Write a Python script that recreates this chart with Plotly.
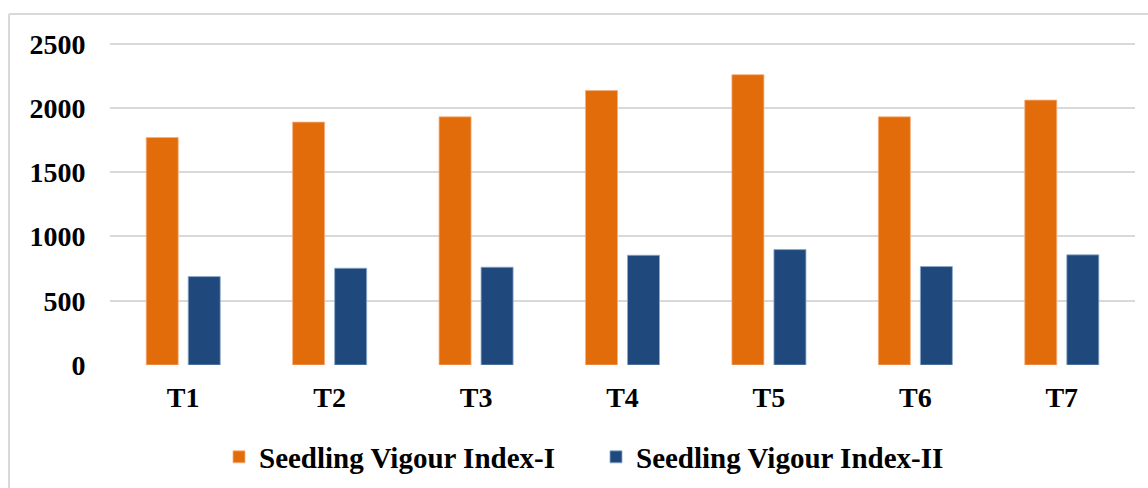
import plotly.graph_objects as go

categories = ["T1", "T2", "T3", "T4", "T5", "T6", "T7"]
svi_1 = [1770, 1890, 1931, 2136, 2259, 1931, 2061]
svi_2 = [688, 753, 761, 854, 898, 766, 857]
series_names = ["Seedling Vigour Index-I", "Seedling Vigour Index-II"]
y_ticks = [0, 500, 1000, 1500, 2000, 2500]

W, H = 1148, 488
ML, MR, MT, MB = 110, 13, 18, 123
pw = W - ML - MR
ph = H - MT - MB

font_main = dict(family="Liberation Serif", size=28, color="black", weight="bold")
font_leg = dict(family="Liberation Serif", size=29, color="black", weight="bold")

fig = go.Figure()
fig.add_trace(go.Bar(x=categories, y=svi_1, name=series_names[0],
                     marker=dict(color="#E36C0A", line=dict(color="#F4B183", width=0.8))))
fig.add_trace(go.Bar(x=categories, y=svi_2, name=series_names[1],
                     marker=dict(color="#1F497D", line=dict(color="#8EA9C8", width=0.8))))

fig.update_layout(
    width=W, height=H,
    margin=dict(l=ML, r=MR, t=MT, b=MB, autoexpand=False),
    paper_bgcolor="white", plot_bgcolor="white",
    barmode="group", bargap=0.426, bargroupgap=0.238,
    showlegend=True,
    legend=dict(orientation="h", x=(219 - ML) / pw, xanchor="left",
                y=(MT + ph - 457) / ph, yanchor="middle",
                font=font_leg, itemwidth=30, traceorder="normal",
                entrywidth=332),
    xaxis=dict(showgrid=False, showline=False, zeroline=False,
               ticks="outside", ticklen=7, tickcolor="rgba(0,0,0,0)",
               tickfont=font_main),
    yaxis=dict(range=[0, 2700], tickvals=y_ticks, showgrid=True,
               gridcolor="#D9D9D9", gridwidth=1.5, zeroline=False, showline=False,
               ticks="outside", ticklen=18, tickcolor="rgba(0,0,0,0)",
               tickfont=font_main),
    shapes=[
        dict(type="line", xref="paper", yref="paper",
             x0=(9 - ML) / pw, x1=(9 - ML) / pw, y0=(MT + ph - 14) / ph, y1=(MT + ph - 500) / ph,
             line=dict(color="#D9D9D9", width=2)),
        dict(type="line", xref="paper", yref="paper",
             x0=(9 - ML) / pw, x1=(1160 - ML) / pw, y0=(MT + ph - 14) / ph, y1=(MT + ph - 14) / ph,
             line=dict(color="#D9D9D9", width=2)),
    ],
)

fig.write_html("out.html", config={"displayModeBar": False},
               post_script="document.body.style.margin='0';document.body.style.overflow='hidden';")
